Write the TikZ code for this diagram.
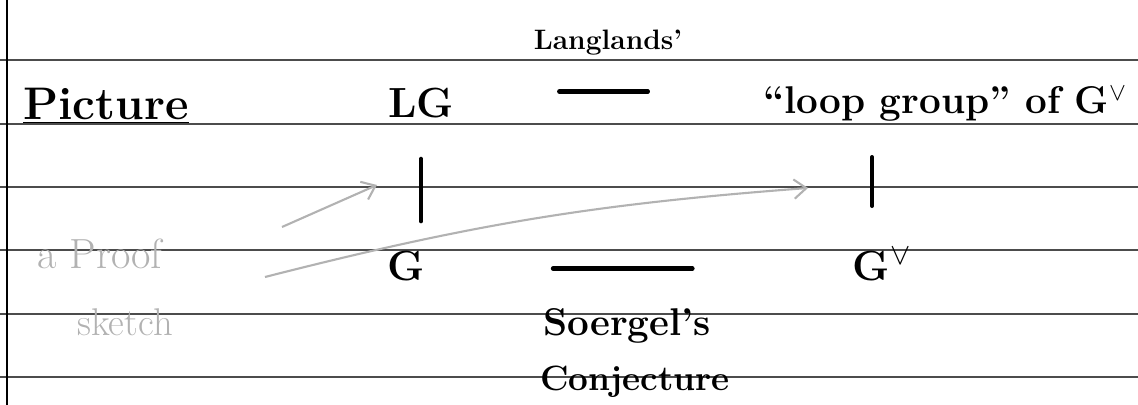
\documentclass[tikz,border=0pt]{standalone}
\usetikzlibrary{calc,arrows.meta}
\begin{document}
\begin{tikzpicture}[x=0.02cm, y=-0.02cm,
    rule/.style={draw=black!70, line width=0.8pt},
    ink/.style={inner sep=0pt, anchor=base},
    pencil/.style={text=gray!60, inner sep=0pt, anchor=base},
    bar/.style={line width=2.4pt, line cap=round},
    hint/.style={-{Straight Barb[length=7pt,width=11pt]}, draw=gray!60, line width=1.2pt}]
    \useasboundingbox (0,0) rectangle (1138,405);

    % Ruled paper
    \foreach \y in {60,124,187,250,314,377}
        \draw[rule] (0,\y) -- (1138,\y);
    \draw[line width=1.2pt] (7,0) -- (7,405);

    % Heading
    \node[ink, font=\fontsize{26}{30}\selectfont\bfseries] (title) at (106,120) {\underline{Picture}};

    % Top row
    \node[ink, font=\fontsize{24}{28}\selectfont\bfseries] (LG) at (421,118) {LG};
    \node[ink, font=\fontsize{22}{26}\selectfont\bfseries] (loop) at (945,114) {``loop group'' of G$^{\vee}$};
    \node[ink, font=\fontsize{16}{19}\selectfont\bfseries] (langlands) at (608,50) {Langlands'};

    % Bottom row
    \node[ink, font=\fontsize{24}{28}\selectfont\bfseries] (G) at (406,280) {G};
    \node[ink, font=\fontsize{24}{28}\selectfont\bfseries] (Gv) at (882,280) {G$^{\vee}$};
    \node[ink, font=\fontsize{22}{26}\selectfont\bfseries] (soergel) at (627,335) {Soergel's};
    \node[ink, font=\fontsize{20}{24}\selectfont\bfseries] (conj) at (635,390) {Conjecture};

    % Pencil notes
    \node[pencil, font=\fontsize{24}{28}\selectfont] (proof) at (100,268) {a Proof};
    \node[pencil, font=\fontsize{22}{26}\selectfont] (sketch) at (125,335) {sketch};

    % Vertical maps
    \draw[bar, shorten <=0.8cm, shorten >=0.58cm] (LG.south) -- (LG.south |- G.north);
    \draw[bar, shorten <=0.7cm, shorten >=0.82cm] ([xshift=-0.2cm]Gv.north |- loop.south) -- ([xshift=-0.2cm]Gv.north);

    % Horizontal correspondences
    \draw[bar, shorten <=2.1cm, shorten >=2.3cm] ([yshift=0.24cm]LG.east) -- ([yshift=0.24cm]LG.east -| loop.west);
    \draw[bar, shorten <=2.56cm, shorten >=3.2cm] ([yshift=-0.06cm]G.east) -- ([yshift=-0.06cm]G.east -| Gv.west);

    % Pencil arrows
    \coordinate (h1) at (282,227);
    \coordinate (h1end) at (377,185);
    \coordinate (h2) at (265,277);
    \coordinate (h2end) at (808,188);
    \draw[hint] (h1) -- (h1end);
    \draw[hint] (h2) to[bend left=5] (h2end);
\end{tikzpicture}
\end{document}
